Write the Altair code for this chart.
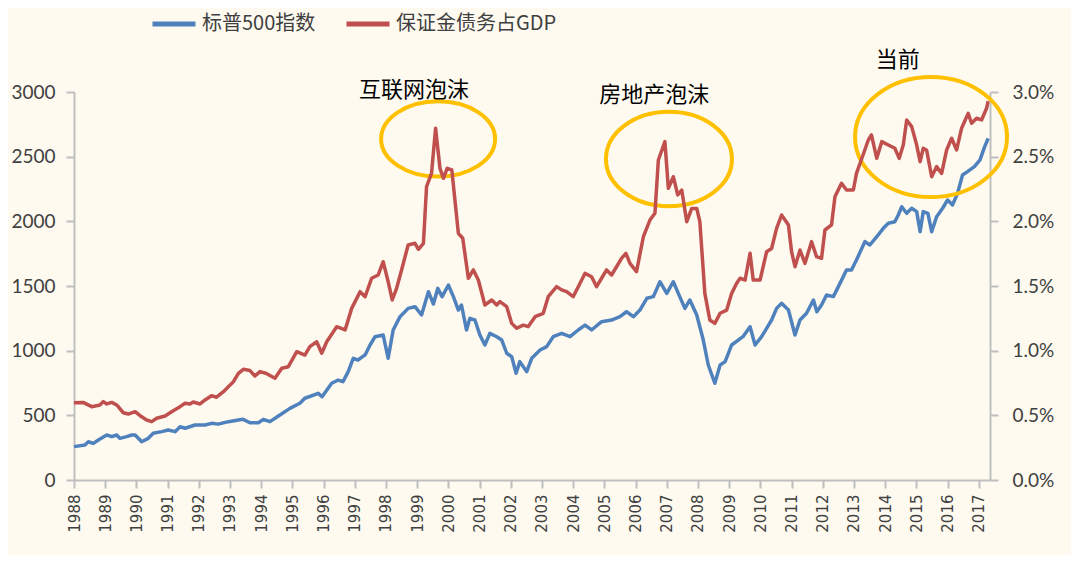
import altair as alt
import pandas as pd

# ---------------- data ----------------
series_names = ["标普500指数", "保证金债务占GDP"]

blue_years = [1988.00, 1988.35, 1988.46, 1988.62, 1988.78, 1989.05, 1989.21, 1989.37, 1989.47, 1989.69,
              1989.85, 1989.96, 1990.17, 1990.38, 1990.54, 1990.81, 1991.02, 1991.24, 1991.40, 1991.56,
              1991.88, 1992.20, 1992.41, 1992.62, 1992.95, 1993.27, 1993.42, 1993.64, 1993.91, 1994.07,
              1994.28, 1994.60, 1994.92, 1995.24, 1995.40, 1995.83, 1995.95, 1996.26, 1996.47, 1996.62,
              1996.79, 1996.95, 1997.10, 1997.33, 1997.49, 1997.65, 1997.91, 1998.07, 1998.23, 1998.45,
              1998.71, 1998.93, 1999.14, 1999.36, 1999.52, 1999.66, 1999.80, 2000.00, 2000.16, 2000.32,
              2000.42, 2000.58, 2000.69, 2000.85, 2001.01, 2001.17, 2001.33, 2001.55, 2001.71, 2001.87,
              2002.03, 2002.17, 2002.29, 2002.51, 2002.67, 2002.94, 2003.15, 2003.36, 2003.63, 2003.90,
              2004.16, 2004.38, 2004.59, 2004.91, 2005.23, 2005.50, 2005.71, 2005.93, 2006.14, 2006.36,
              2006.57, 2006.78, 2007.00, 2007.21, 2007.37, 2007.58, 2007.74, 2007.96, 2008.17, 2008.33,
              2008.54, 2008.71, 2008.87, 2009.08, 2009.29, 2009.44, 2009.67, 2009.83, 2010.04, 2010.20,
              2010.36, 2010.52, 2010.68, 2010.90, 2011.11, 2011.27, 2011.48, 2011.70, 2011.81, 2011.96,
              2012.12, 2012.34, 2012.50, 2012.76, 2012.92, 2013.08, 2013.35, 2013.51, 2013.73, 2013.94,
              2014.10, 2014.31, 2014.42, 2014.53, 2014.69, 2014.85, 2015.01, 2015.12, 2015.22, 2015.37,
              2015.49, 2015.65, 2015.84, 2016.00, 2016.16, 2016.32, 2016.48, 2016.64, 2016.86, 2017.04,
              2017.19, 2017.30]
blue_values = [258, 271, 296, 283, 309, 348, 335, 348, 322, 335,
               348, 348, 296, 322, 361, 374, 387, 374, 412, 400,
               425, 425, 438, 432, 451, 464, 469, 443, 443, 469,
               451, 503, 554, 593, 632, 670, 644, 748, 773, 760,
               838, 941, 928, 967, 1044, 1108, 1121, 941, 1160, 1263,
               1327, 1340, 1276, 1456, 1361, 1482, 1418, 1508, 1418, 1314,
               1353, 1160, 1250, 1237, 1121, 1044, 1134, 1108, 1082, 980,
               953, 825, 915, 838, 941, 1005, 1031, 1108, 1134, 1108,
               1160, 1198, 1160, 1224, 1237, 1263, 1301, 1263, 1314, 1405,
               1418, 1533, 1443, 1533, 1443, 1327, 1392, 1276, 1082, 889,
               748, 889, 915, 1044, 1082, 1108, 1185, 1044, 1108, 1173,
               1237, 1327, 1366, 1314, 1121, 1237, 1289, 1392, 1301, 1353,
               1430, 1418, 1495, 1624, 1624, 1701, 1843, 1817, 1881, 1946,
               1985, 1997, 2049, 2113, 2062, 2101, 2075, 1920, 2075, 2062,
               1920, 2036, 2101, 2165, 2127, 2217, 2358, 2384, 2423, 2475,
               2577, 2642]

red_years = [1988.00, 1988.29, 1988.57, 1988.83, 1988.94, 1989.05, 1989.21, 1989.37, 1989.58, 1989.74,
             1989.96, 1990.12, 1990.33, 1990.49, 1990.65, 1990.92, 1991.18, 1991.40, 1991.56, 1991.72,
             1991.82, 1992.04, 1992.20, 1992.41, 1992.57, 1992.79, 1992.95, 1993.11, 1993.27, 1993.43,
             1993.64, 1993.80, 1993.96, 1994.15, 1994.44, 1994.66, 1994.87, 1995.14, 1995.40, 1995.56,
             1995.78, 1995.94, 1996.10, 1996.42, 1996.69, 1996.90, 1997.17, 1997.33, 1997.54, 1997.75,
             1997.91, 1998.07, 1998.20, 1998.34, 1998.50, 1998.71, 1998.93, 1999.04, 1999.20, 1999.30,
             1999.46, 1999.59, 1999.73, 1999.84, 1999.96, 2000.11, 2000.32, 2000.46, 2000.64, 2000.80,
             2000.96, 2001.17, 2001.39, 2001.55, 2001.65, 2001.87, 2002.03, 2002.19, 2002.40, 2002.56,
             2002.78, 2003.04, 2003.20, 2003.47, 2003.63, 2003.79, 2004.00, 2004.22, 2004.38, 2004.59,
             2004.75, 2004.91, 2005.07, 2005.23, 2005.39, 2005.55, 2005.69, 2005.82, 2006.03, 2006.25,
             2006.46, 2006.62, 2006.73, 2006.94, 2007.05, 2007.21, 2007.35, 2007.48, 2007.64, 2007.80,
             2007.96, 2008.06, 2008.22, 2008.38, 2008.54, 2008.71, 2008.92, 2009.08, 2009.24, 2009.35,
             2009.51, 2009.67, 2009.77, 2009.99, 2010.20, 2010.36, 2010.52, 2010.68, 2010.90, 2011.00,
             2011.11, 2011.27, 2011.43, 2011.64, 2011.80, 2011.96, 2012.07, 2012.28, 2012.39, 2012.60,
             2012.76, 2012.98, 2013.08, 2013.29, 2013.46, 2013.56, 2013.73, 2013.89, 2014.10, 2014.31,
             2014.45, 2014.58, 2014.69, 2014.85, 2015.01, 2015.12, 2015.22, 2015.33, 2015.49, 2015.65,
             2015.81, 2015.97, 2016.13, 2016.29, 2016.45, 2016.66, 2016.77, 2016.93, 2017.09, 2017.25,
             2017.30]
red_values = [0.598, 0.600, 0.567, 0.580, 0.606, 0.588, 0.600, 0.580, 0.520, 0.510,
              0.528, 0.497, 0.464, 0.451, 0.477, 0.495, 0.536, 0.567, 0.593, 0.588,
              0.603, 0.588, 0.619, 0.652, 0.640, 0.683, 0.722, 0.760, 0.825, 0.856,
              0.846, 0.804, 0.838, 0.825, 0.786, 0.864, 0.876, 0.992, 0.966, 1.031,
              1.069, 0.980, 1.069, 1.185, 1.160, 1.327, 1.456, 1.417, 1.560, 1.585,
              1.688, 1.533, 1.392, 1.482, 1.624, 1.817, 1.830, 1.784, 1.830, 2.268,
              2.371, 2.720, 2.410, 2.333, 2.410, 2.397, 1.907, 1.869, 1.560, 1.624,
              1.546, 1.353, 1.392, 1.353, 1.379, 1.340, 1.211, 1.173, 1.198, 1.186,
              1.263, 1.289, 1.417, 1.495, 1.470, 1.456, 1.417, 1.521, 1.598, 1.572,
              1.495, 1.560, 1.624, 1.585, 1.649, 1.714, 1.753, 1.675, 1.611, 1.881,
              2.010, 2.062, 2.474, 2.616, 2.255, 2.345, 2.204, 2.242, 1.997, 2.100,
              2.100, 1.997, 1.443, 1.237, 1.211, 1.289, 1.314, 1.443, 1.521, 1.560,
              1.546, 1.753, 1.546, 1.546, 1.765, 1.790, 1.946, 2.049, 1.972, 1.765,
              1.649, 1.778, 1.675, 1.843, 1.727, 1.714, 1.933, 1.972, 2.190, 2.294,
              2.242, 2.242, 2.371, 2.513, 2.629, 2.668, 2.487, 2.616, 2.590, 2.565,
              2.487, 2.590, 2.784, 2.732, 2.590, 2.461, 2.565, 2.550, 2.345, 2.423,
              2.371, 2.552, 2.642, 2.552, 2.720, 2.835, 2.758, 2.797, 2.784, 2.874,
              2.930]

year_ticks = list(range(1988, 2018))
left_ticks = [0, 500, 1000, 1500, 2000, 2500, 3000]
right_ticks = [0.0, 0.5, 1.0, 1.5, 2.0, 2.5, 3.0]

note_labels = ["互联网泡沫", "房地产泡沫", "当前"]
note_years = [1998.9, 2006.6, 2014.4]
note_values = [3016, 2977, 3248]

ring_years = [1999.67, 2007.07, 2015.47]
ring_values = [2637, 2482, 2652]

# ---------------- styles ----------------
BLUE = "#4F81BD"
RED = "#C0504D"
GOLD = "#FFC000"
AXIS_GRAY = "#BFBFBF"
TEXT = "#404040"
BG = "#FEFAF0"

# ellipse outlines (unit-box paths) and their pixel areas
ring_shapes = [
    "M -1 0 A 1 0.66 0 1 0 1 0 A 1 0.66 0 1 0 -1 0 Z",
    "M -1 0 A 1 0.75 0 1 0 1 0 A 1 0.75 0 1 0 -1 0 Z",
    "M -1 0 A 1 0.79 0 1 0 1 0 A 1 0.79 0 1 0 -1 0 Z",
]
ring_sizes = [114 ** 2, 126 ** 2, 152 ** 2]

blue_df = pd.DataFrame({"year": blue_years, "value": blue_values, "series": series_names[0]})
red_df = pd.DataFrame({"year": red_years, "value": red_values, "series": series_names[1]})
note_df = pd.DataFrame({"year": note_years, "value": note_values, "label": note_labels})
ring_df = pd.DataFrame({"year": ring_years, "value": ring_values,
                        "shape": ring_shapes, "size": ring_sizes})

x_enc = alt.X(
    "year:Q",
    title=None,
    scale=alt.Scale(domain=[1988, 2017.36], nice=False, zero=False),
    axis=alt.Axis(values=year_ticks, format="d", labelAngle=-90, labelFont="DejaVu Sans",
                  labelFontSize=15, labelColor=TEXT, tickSize=8, tickColor=AXIS_GRAY,
                  tickWidth=2, domainColor=AXIS_GRAY, domainWidth=2, labelPadding=6,
                  grid=False, labelOverlap=False),
)

y_left = alt.Y(
    "value:Q",
    title=None,
    scale=alt.Scale(domain=[0, 3000], nice=False),
    axis=alt.Axis(orient="left", values=left_ticks, format="d", labelFont="Lato",
                  labelFontSize=19, labelColor=TEXT, tickSize=8, tickColor=AXIS_GRAY,
                  tickWidth=2, domainColor=AXIS_GRAY, domainWidth=2, labelPadding=11,
                  grid=False),
)

y_right = alt.Y(
    "value:Q",
    title=None,
    scale=alt.Scale(domain=[0, 3], nice=False),
    axis=alt.Axis(orient="right", values=right_ticks,
                  labelExpr="format(datum.value, '.1f') + '%'", labelFont="Lato",
                  labelFontSize=19, labelColor=TEXT, tickSize=8, tickColor=AXIS_GRAY,
                  tickWidth=2, domainColor=AXIS_GRAY, domainWidth=2, labelPadding=14,
                  grid=False),
)

legend = alt.Legend(orient="none", legendX=76, legendY=-92, direction="horizontal", title=None,
                    symbolType="stroke", symbolSize=43 * 43, symbolStrokeWidth=5,
                    labelFont="Noto Sans CJK SC", labelFontSize=20, labelColor=TEXT,
                    labelLimit=400, columnPadding=20, labelOffset=4, padding=0)

color_enc = alt.Color("series:N", scale=alt.Scale(domain=series_names, range=[BLUE, RED]),
                      legend=legend)

blue_line = alt.Chart(blue_df).mark_line(strokeWidth=3.5, strokeJoin="round").encode(
    x=x_enc, y=y_left, color=color_enc)

rings = alt.Chart(ring_df).mark_point(filled=False, stroke=GOLD, strokeWidth=4, opacity=1).encode(
    x=x_enc, y=y_left,
    shape=alt.Shape("shape:N", scale=None),
    size=alt.Size("size:Q", scale=None))

notes = alt.Chart(note_df).mark_text(font="Noto Sans CJK SC", fontSize=22, color="#000000",
                                     baseline="middle", align="center").encode(
    x=x_enc, y=y_left, text="label:N")

left_group = alt.layer(blue_line, rings, notes)

red_line = alt.Chart(red_df).mark_line(strokeWidth=3.5, strokeJoin="round").encode(
    x=x_enc, y=y_right, color=color_enc)

chart = alt.layer(left_group, red_line).resolve_scale(y="independent").properties(
    width=916, height=388,
    autosize=alt.AutoSizeParams(type="none"),
    padding={"left": 66, "top": 84, "right": 81, "bottom": 75},
    background=BG,
).configure_view(stroke=None)

chart.save("out.html", embed_options={"renderer": "svg", "actions": False})
